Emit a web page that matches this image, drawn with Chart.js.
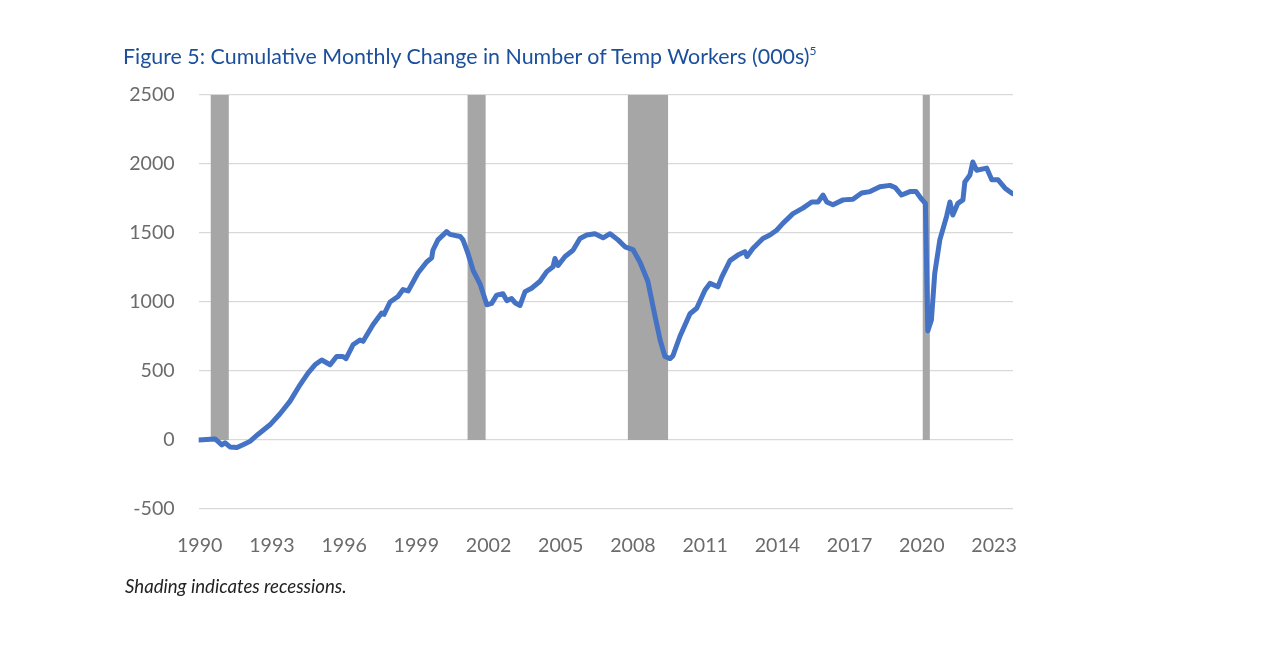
<!DOCTYPE html>
<html>
<head>
<meta charset="utf-8">
<script src="https://cdn.jsdelivr.net/npm/chart.js@4"></script>
<style>
  html, body { margin: 0; padding: 0; background: #ffffff; }
  body { width: 1276px; height: 647px; position: relative; overflow: hidden; }
  #title { position: absolute; left: 123px; top: 43px; font-family: Lato, "Open Sans", sans-serif; font-size: 21.4px; color: #1b4f9c; white-space: nowrap; }
  #title sup { font-size: 12px; position: relative; top: -1px; }
  #note { position: absolute; left: 125px; top: 575px; font-family: Lato, "Open Sans", sans-serif; font-style: italic; font-size: 18.6px; color: #222; white-space: nowrap; }
  #wrap { position: absolute; left: 0; top: 0; width: 1276px; height: 647px; }
</style>
</head>
<body>
<div id="wrap"><canvas id="c" width="1276" height="647"></canvas></div>
<div id="title">Figure 5: Cumulative Monthly Change in Number of Temp Workers (000s)<sup>5</sup></div>
<div id="note">Shading indicates recessions.</div>
<script>
// Decimal-year positions of the sampled points
const years = [
  1990.0, 1990.47, 1990.68, 1990.96, 1991.09, 1991.30, 1991.59, 1991.84, 1992.13, 1992.46,
  1992.96, 1993.38, 1993.79, 1994.21, 1994.54, 1994.83, 1995.11, 1995.46, 1995.73, 1995.99,
  1996.12, 1996.41, 1996.70, 1996.83, 1997.24, 1997.60, 1997.70, 1997.95, 1998.28, 1998.49,
  1998.70, 1999.11, 1999.47, 1999.68, 1999.73, 1999.94, 2000.30, 2000.44, 2000.86, 2000.98,
  2001.19, 2001.40, 2001.69, 2001.97, 2002.17, 2002.38, 2002.64, 2002.80, 2003.00, 2003.14,
  2003.35, 2003.56, 2003.83, 2004.18, 2004.46, 2004.72, 2004.80, 2004.93, 2005.22, 2005.55,
  2005.84, 2006.12, 2006.46, 2006.80, 2007.09, 2007.42, 2007.71, 2008.04, 2008.33, 2008.66,
  2008.96, 2009.17, 2009.37, 2009.58, 2009.70, 2009.99, 2010.41, 2010.69, 2011.03, 2011.24,
  2011.57, 2011.73, 2012.07, 2012.40, 2012.69, 2012.78, 2013.03, 2013.44, 2013.73, 2014.01,
  2014.27, 2014.69, 2015.10, 2015.47, 2015.73, 2015.94, 2016.09, 2016.35, 2016.77, 2017.18,
  2017.54, 2017.89, 2018.30, 2018.72, 2018.93, 2019.20, 2019.55, 2019.80, 2020.01, 2020.19,
  2020.29, 2020.44, 2020.58, 2020.79, 2021.07, 2021.21, 2021.33, 2021.54, 2021.75, 2021.83,
  2022.04, 2022.16, 2022.32, 2022.74, 2022.95, 2023.21, 2023.50, 2023.77, 2023.83
];
// Cumulative change in temp workers (thousands)
const tempChange = [
  0, 5, 8, -35, -20, -50, -55, -35, -10, 40,
  110, 190, 280, 400, 485, 545, 580, 545, 605, 605,
  590, 690, 725, 715, 835, 920, 910, 1000, 1040, 1090,
  1080, 1210, 1290, 1320, 1375, 1450, 1510, 1490, 1475, 1450,
  1350, 1230, 1130, 980, 990, 1050, 1060, 1010, 1025, 995,
  975, 1075, 1100, 1150, 1220, 1255, 1315, 1265, 1330, 1375,
  1460, 1485, 1495, 1465, 1495, 1450, 1400, 1380, 1290, 1150,
  895, 725, 605, 590, 610, 750, 915, 955, 1085, 1135,
  1110, 1180, 1300, 1340, 1365, 1330, 1390, 1460, 1485, 1520,
  1570, 1640, 1680, 1725, 1725, 1775, 1725, 1705, 1740, 1745,
  1790, 1800, 1835, 1845, 1830, 1775, 1800, 1800, 1750, 1715,
  790, 870, 1210, 1450, 1620, 1725, 1630, 1715, 1740, 1870,
  1920, 2015, 1955, 1970, 1885, 1885, 1825, 1790, 1785
];
// Recession periods (decimal years)
const recessionStart = [1990.5, 2001.17, 2007.83, 2020.08];
const recessionEnd   = [1991.25, 2001.92, 2009.5, 2020.375];
const recessionTop = 2500;
// Axis ticks
const xTickYears = [1990, 1993, 1996, 1999, 2002, 2005, 2008, 2011, 2014, 2017, 2020, 2023];
const yTicks = [-500, 0, 500, 1000, 1500, 2000, 2500];

const recessionPlugin = {
  id: 'recessions',
  beforeDatasetsDraw(chart) {
    const { ctx, scales: { x, y } } = chart;
    ctx.save();
    ctx.fillStyle = '#a6a6a6';
    const yTop = y.getPixelForValue(recessionTop);
    const yBot = y.getPixelForValue(0);
    for (let i = 0; i < recessionStart.length; i++) {
      const x0 = x.getPixelForValue(recessionStart[i]);
      const x1 = x.getPixelForValue(recessionEnd[i]);
      ctx.fillRect(x0, yTop, x1 - x0, yBot - yTop);
    }
    ctx.restore();
  }
};

const font = { family: 'Lato, "Open Sans", sans-serif', size: 19.6 };

new Chart(document.getElementById('c'), {
  type: 'line',
  data: {
    datasets: [{
      label: 'Temp workers',
      data: years.map((t, i) => ({ x: t, y: tempChange[i] })),
      borderColor: '#4472c4',
      borderWidth: 5,
      pointRadius: 0,
      tension: 0,
      fill: false,
      borderCapStyle: 'round',
      borderJoinStyle: 'round'
    }]
  },
  options: {
    responsive: false,
    animation: false,
    events: [],
    layout: { padding: { left: 100, right: 263, top: 95, bottom: 70 } },
    plugins: { legend: { display: false }, tooltip: { enabled: false }, title: { display: false } },
    scales: {
      x: {
        type: 'linear',
        min: 1990,
        max: 2023.83,
        afterBuildTicks(scale) { scale.ticks = xTickYears.map(v => ({ value: v + 1 / 24 })); },
        afterFit(scale) { scale.height = 68; },
        ticks: {
          autoSkip: false, maxRotation: 0, padding: 25, color: '#6b6b6b', font,
          callback: (v) => String(Math.round(v - 1 / 24))
        },
        grid: { display: false, drawTicks: false },
        border: { display: false }
      },
      y: {
        min: -500,
        max: 2500,
        afterBuildTicks(scale) { scale.ticks = yTicks.map(v => ({ value: v })); },
        afterFit(scale) { scale.width = 98.7; },
        ticks: { padding: 24, color: '#6b6b6b', font, callback: (v) => String(v) },
        grid: { color: '#d9d9d9', lineWidth: 1.3, drawTicks: false },
        border: { display: false }
      }
    }
  },
  plugins: [recessionPlugin]
});
</script>
</body>
</html>
